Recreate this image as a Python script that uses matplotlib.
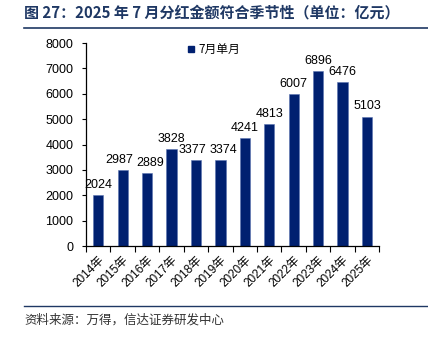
import numpy as np
import matplotlib.pyplot as plt
from matplotlib.lines import Line2D

plt.rcParams['font.family'] = ['Liberation Sans', 'Noto Sans CJK SC', 'DejaVu Sans']

years = ['2014年', '2015年', '2016年', '2017年', '2018年', '2019年',
         '2020年', '2021年', '2022年', '2023年', '2024年', '2025年']
values = [2024, 2987, 2889, 3828, 3377, 3374, 4241, 4813, 6007, 6896, 6476, 5103]

navy = '#002070'
title_color = '#1f3864'

fig = plt.figure(figsize=(4.28, 3.37), dpi=100)
ax = fig.add_axes([0.201, 0.270, 0.685, 0.602])

x = np.arange(len(years))
ax.bar(x, values, width=0.42, color=navy, edgecolor='#5a74b0', linewidth=0.4, zorder=2)

# 相邻数值太接近时稍微左右错开标签
for i, (xi, v) in enumerate(zip(x, values)):
    dx = 0
    if i + 1 < len(values) and abs(values[i + 1] - v) < 300:
        dx = -2.5
    elif i > 0 and abs(values[i - 1] - v) < 300:
        dx = 2.5
    ax.annotate(str(v), (xi, v), xytext=(dx, 3), textcoords='offset points',
                ha='center', va='bottom', fontsize=9, color='black')

ax.set_xlim(-0.5, len(years) - 0.5)
ax.set_ylim(0, 8000)
ax.set_yticks(range(0, 8001, 1000))
ax.tick_params(axis='y', labelsize=9, length=3, width=0.8, pad=6)

ax.set_xticks(x)
ax.set_xticklabels(years, rotation=45, ha='right', rotation_mode='anchor', fontsize=8.5)
ax.tick_params(axis='x', length=0, pad=6)
ax.set_xticks(np.arange(-0.5, len(years), 1), minor=True)
ax.tick_params(axis='x', which='minor', length=4, width=0.8)

for s in ['top', 'right']:
    ax.spines[s].set_visible(False)
for s in ['left', 'bottom']:
    ax.spines[s].set_linewidth(0.9)

handle = Line2D([], [], marker='s', color=navy, linestyle='none', markersize=5)
ax.legend([handle], ['7月单月'], loc='upper left', bbox_to_anchor=(0.31, 1.04),
          frameon=False, handletextpad=0.1, borderpad=0.2, handlelength=1.0,
          prop={'family': ['Noto Sans CJK SC'], 'size': 8.5})

fig.text(0.056, 0.962, '图 27：2025 年 7 月分红金额符合季节性（单位：亿元）',
         fontsize=10.8, fontweight='bold', color=title_color, va='center',
         family=['Noto Sans CJK SC'])
fig.add_artist(Line2D([0.056, 1.0], [0.917, 0.917], color=title_color, linewidth=1.2))
fig.add_artist(Line2D([0.056, 1.0], [0.092, 0.092], color=title_color, linewidth=1.0))
fig.text(0.056, 0.05, '资料来源：万得，信达证券研发中心', fontsize=9, style='italic',
         color='#333333', va='center', family=['Noto Sans CJK SC'])

fig.savefig('out.png', dpi=100)
